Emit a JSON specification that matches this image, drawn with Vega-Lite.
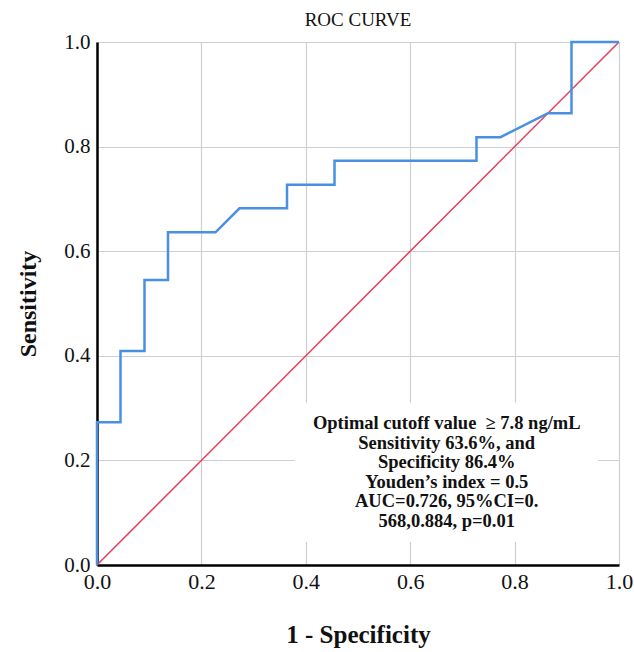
{
  "$schema": "https://vega.github.io/schema/vega-lite/v6.json",
  "autosize": {"type": "none"},
  "width": 522,
  "height": 523,
  "padding": {"left": 97, "top": 42, "right": 15, "bottom": 87},
  "background": "white",
  "title": {"text": "ROC CURVE", "font": "Liberation Serif", "fontSize": 19, "fontWeight": "normal", "color": "#111", "offset": 1, "anchor": "middle"},
  "config": {
    "view": {"stroke": null},
    "axis": {"grid": true, "labelFont": "Liberation Serif", "titleFont": "Liberation Serif", "labelColor": "#111", "titleColor": "#111", "gridColor": "#cfcfcf", "gridWidth": 1.2, "ticks": false, "domainColor": "#000", "domainWidth": 2.5}
  },
  "datasets": {
    "roc": [
      {"i": 0, "fpr": 0.0, "tpr": 0.0},
      {"i": 1, "fpr": 0.0, "tpr": 0.273},
      {"i": 2, "fpr": 0.045, "tpr": 0.273},
      {"i": 3, "fpr": 0.045, "tpr": 0.409},
      {"i": 4, "fpr": 0.091, "tpr": 0.409},
      {"i": 5, "fpr": 0.091, "tpr": 0.545},
      {"i": 6, "fpr": 0.136, "tpr": 0.545},
      {"i": 7, "fpr": 0.136, "tpr": 0.636},
      {"i": 8, "fpr": 0.227, "tpr": 0.636},
      {"i": 9, "fpr": 0.273, "tpr": 0.682},
      {"i": 10, "fpr": 0.364, "tpr": 0.682},
      {"i": 11, "fpr": 0.364, "tpr": 0.727},
      {"i": 12, "fpr": 0.455, "tpr": 0.727},
      {"i": 13, "fpr": 0.455, "tpr": 0.773},
      {"i": 14, "fpr": 0.727, "tpr": 0.773},
      {"i": 15, "fpr": 0.727, "tpr": 0.818},
      {"i": 16, "fpr": 0.773, "tpr": 0.818},
      {"i": 17, "fpr": 0.864, "tpr": 0.864},
      {"i": 18, "fpr": 0.909, "tpr": 0.864},
      {"i": 19, "fpr": 0.909, "tpr": 1.0},
      {"i": 20, "fpr": 1.0, "tpr": 1.0}
    ],
    "ref": [
      {"i": 0, "fpr": 0.0, "tpr": 0.0},
      {"i": 1, "fpr": 1.0, "tpr": 1.0}
    ],
    "note": [
      {"label": "Optimal cutoff value \u00a0≥ 7.8 ng/mL\nSensitivity 63.6%, and\nSpecificity 86.4%\u00a0\u00a0\u00a0\u00a0\n\u00a0\u00a0Youden’s index = 0.5\nAUC=0.726, 95%CI=0.\n568,0.884, p=0.01"}
    ]
  },
  "layer": [
    {
      "data": {"name": "ref"},
      "mark": {"type": "line", "color": "#e8395f", "strokeWidth": 1.5},
      "encoding": {
        "x": {"field": "fpr", "type": "quantitative", "scale": {"domain": [0, 1], "nice": false},
          "axis": {"title": "1 - Specificity", "values": [0, 0.2, 0.4, 0.6, 0.8, 1.0], "format": ".1f", "labelFontSize": 22, "labelPadding": 6, "titleFontSize": 25, "titleFontWeight": "bold", "titlePadding": 30, "labelFlush": false}},
        "y": {"field": "tpr", "type": "quantitative", "scale": {"domain": [0, 1], "nice": false},
          "axis": {"title": "Sensitivity", "values": [0, 0.2, 0.4, 0.6, 0.8, 1.0], "format": ".1f", "labelFontSize": 21, "labelPadding": 7, "titleFontSize": 24, "titleFontWeight": "bold", "titlePadding": 23, "labelFlush": false}},
        "order": {"field": "i"}
      }
    },
    {
      "data": {"name": "roc"},
      "mark": {"type": "line", "color": "#4a90e2", "strokeWidth": 2.5},
      "encoding": {
        "x": {"field": "fpr", "type": "quantitative"},
        "y": {"field": "tpr", "type": "quantitative"},
        "order": {"field": "i"}
      }
    },
    {
      "data": {"name": "note"},
      "mark": {"type": "rect", "fill": "white", "stroke": null},
      "encoding": {
        "x": {"datum": 0.379, "type": "quantitative"},
        "x2": {"datum": 0.96},
        "y": {"datum": 0.044, "type": "quantitative"},
        "y2": {"datum": 0.31}
      }
    },
    {
      "data": {"name": "note"},
      "mark": {"type": "text", "font": "Liberation Serif", "fontWeight": "bold", "fontSize": 18.5, "lineHeight": 19.5, "align": "center", "baseline": "middle", "color": "#111", "lineBreak": "\n"},
      "encoding": {
        "x": {"datum": 0.67, "type": "quantitative"},
        "y": {"datum": 0.2715, "type": "quantitative"},
        "text": {"field": "label"}
      }
    }
  ]
}
